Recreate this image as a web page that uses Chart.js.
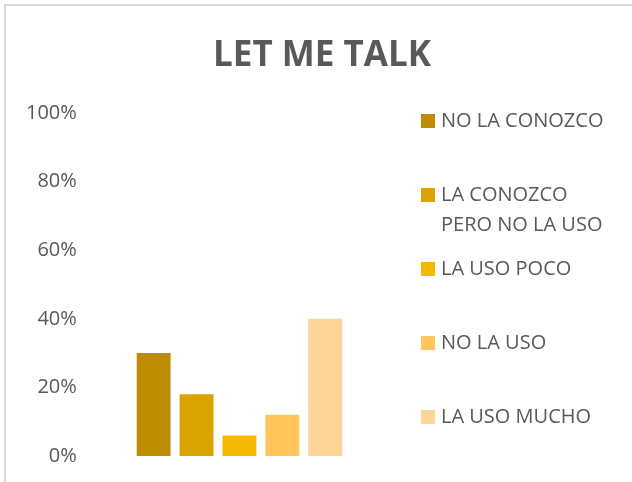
<!DOCTYPE html>
<html>
<head>
<meta charset="utf-8">
<script src="https://cdn.jsdelivr.net/npm/chart.js@4.4.1/dist/chart.umd.min.js"></script>
<style>
  html, body { margin: 0; padding: 0; background: #ffffff; }
  #wrap { position: relative; width: 632px; height: 482px; overflow: hidden; }
  #frame { position: absolute; left: 4px; top: 4px; width: 700px; height: 600px;
           border-top: 2px solid #d9d9d9; border-left: 2px solid #d9d9d9; box-sizing: border-box; }
  canvas { position: absolute; left: 0; top: 0; }
</style>
</head>
<body>
<div id="wrap">
  <div id="frame"></div>
  <canvas id="c" width="632" height="482"></canvas>
</div>
<script>
const chartTitle = 'LET ME TALK';
const seriesNames = ['NO LA CONOZCO', 'LA CONOZCO PERO NO LA USO', 'LA USO POCO', 'NO LA USO', 'LA USO MUCHO'];
const seriesValues = [30, 18, 6, 12, 40];
const seriesColors = ['#BE8C00', '#DBA300', '#F5B800', '#FFC55A', '#FFD596'];
const yTicks = [0, 20, 40, 60, 80, 100];

const textColor = '#595959';
const fontFamily = '"Open Sans", "DejaVu Sans", sans-serif';

const datasets = seriesNames.map((name, i) => ({
  label: name,
  data: [seriesValues[i]],
  backgroundColor: seriesColors[i],
  borderWidth: 0,
  categoryPercentage: 0.7215,
  barPercentage: 0.79
}));

function wrapText(ctx, text, maxW) {
  const words = text.split(' ');
  const lines = [];
  let cur = '';
  words.forEach(w => {
    const t = cur ? cur + ' ' + w : w;
    if (ctx.measureText(t).width > maxW && cur) { lines.push(cur); cur = w; }
    else cur = t;
  });
  if (cur) lines.push(cur);
  return lines;
}

const sideLegendAndTitle = {
  id: 'sideLegendAndTitle',
  afterDraw(chart) {
    const ctx = chart.ctx;
    const area = chart.chartArea;
    ctx.save();
    // title
    ctx.font = 'bold 35px ' + fontFamily;
    ctx.fillStyle = textColor;
    ctx.textAlign = 'center';
    ctx.textBaseline = 'alphabetic';
    ctx.fillText(chartTitle, chart.width / 2 + 6, 66);
    // legend
    ctx.font = '20px ' + fontFamily;
    ctx.textBaseline = 'middle';
    ctx.textAlign = 'left';
    const boxX = 421, box = 14, textX = 441, step = 74, lineH = 30;
    let y = area.top + 8;
    chart.data.datasets.forEach(ds => {
      ctx.fillStyle = ds.backgroundColor;
      ctx.fillRect(boxX, y - box / 2, box, box);
      ctx.fillStyle = textColor;
      const lines = wrapText(ctx, ds.label, 175);
      lines.forEach((ln, k) => ctx.fillText(ln, textX, y + k * lineH));
      y += step;
    });
    ctx.restore();
  }
};

new Chart(document.getElementById('c'), {
  type: 'bar',
  data: { labels: [''], datasets },
  options: {
    responsive: false,
    animation: false,
    layout: { padding: { left: 12, right: 244, top: 113, bottom: 26 } },
    plugins: {
      legend: { display: false },
      tooltip: { enabled: false },
      title: { display: false }
    },
    scales: {
      x: { display: false },
      y: {
        min: 0, max: 100,
        afterBuildTicks: (scale) => { scale.ticks = yTicks.map(v => ({ value: v })); },
        grid: { display: false, drawTicks: false },
        border: { display: false },
        ticks: {
          color: textColor,
          padding: 14,
          font: { family: fontFamily, size: 20 },
          callback: (v) => v + '%'
        }
      }
    }
  },
  plugins: [sideLegendAndTitle]
});
</script>
</body>
</html>
